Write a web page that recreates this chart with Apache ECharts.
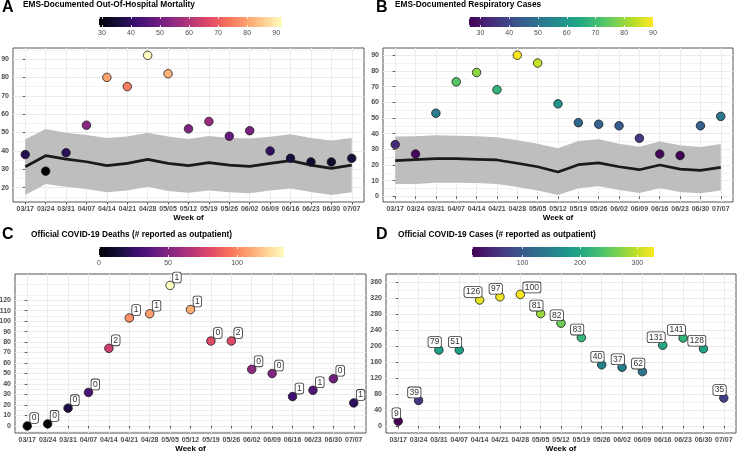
<!DOCTYPE html>
<html>
<head>
<meta charset="utf-8">
<script src="https://cdn.jsdelivr.net/npm/echarts@6/dist/echarts.min.js"></script>
<style>
html,body{margin:0;padding:0;background:#fff;}
#chart{width:737px;height:453px;}
</style>
</head>
<body>
<div id="chart"></div>
<script>
// ---------------- data ----------------
const weeks = ['03/17','03/24','03/31','04/07','04/14','04/21','04/28','05/05','05/12','05/19','05/26','06/02','06/09','06/16','06/23','06/30','07/07'];

const mortality      = [38,29,39,54,80,75,92,82,52,56,48,51,40,36,34,34,36];
const mortExpected   = [31.4,37.4,35.5,34.1,32,33.2,35.4,33.2,32,33.6,32.3,31.6,33.2,34.7,32.3,30.5,32.3];
const mortUpper      = [46.3,51.9,49.9,48.6,47,47.9,49.9,47.9,46.5,48.1,47,46.7,47.7,49,47,45.6,47];
const mortLower      = [16,22,20.5,19.3,17.5,18.4,20.5,18.2,17.3,18.5,17.5,16.9,18.4,19.5,17.6,16,17.5];

const resp           = [33,27,53,73,79,68,90,85,59,47,46,45,37,27,26,45,51];
const respExpected   = [22.8,23.4,24,24,23.6,23.2,21.1,18.9,15.5,20.2,21.3,18.9,17,20,17.4,16.6,18.5];
const respUpper      = [38.1,38.3,38.9,38.7,38.3,37.7,35.7,33.6,30.6,35.3,36.4,33.6,31.7,34.9,32.6,31.5,33.4];
const respLower      = [7.9,7.9,8.7,8.7,8.5,7.9,6,3.8,0.9,5.1,6.4,4,2.1,5.1,2.8,1.9,3.8];

const deaths            = [0,2,17,32,74,103,107,134,111,81,81,54,50,28,34,45,22];
const deathsOutpatient  = [0,0,0,0,2,1,1,1,1,0,2,0,0,1,1,0,1];

const cases             = [12,64,190,190,315,323,329,281,257,221,153,147,136,202,220,193,70];
const casesOutpatient   = [9,39,79,51,126,97,100,81,82,83,40,37,62,131,141,128,35];

const ticksA = [20,30,40,50,60,70,80,90];
const ticksB = [0,10,20,30,40,50,60,70,80,90];
const ticksC = [0,10,20,30,40,50,60,70,80,90,100,110,120];
const ticksD = [0,40,80,120,160,200,240,280,320,360];

const titleA = 'EMS-Documented Out-Of-Hospital Mortality';
const titleB = 'EMS-Documented Respiratory Cases';
const titleC = 'Official COVID-19 Deaths (# reported as outpatient)';
const titleD = 'Official COVID-19 Cases (# reported as outpatient)';

// ---------------- styling ----------------
const FONT = "'Liberation Sans', Arial, sans-serif";
const magma = ['#000004','#140E36','#3B0F70','#641A80','#8C2981','#B63679','#DE4968','#F7705C','#FE9F6D','#FECF92','#FCFDBF'];
const viridis = ['#440154','#482576','#414487','#35608D','#2A788E','#21908C','#22A884','#43BF71','#7AD151','#BBDF27','#FDE725'];

function grad(stops){
  return {type:'linear', x:0, y:0, x2:1, y2:0, global:false,
    colorStops: stops.map((c,i)=>({offset:i/(stops.length-1), color:c}))};
}
const isMult = (v, s) => Math.abs(v/s - Math.round(v/s)) < 1e-6;

function mainX(gi){
  const idx = weeks.map((w,i)=>i);
  return {
    type:'value', gridIndex:gi, min:-0.6, max:weeks.length-1+0.6, minInterval:1, maxInterval:1,
    axisLine:{show:false},
    axisTick:{show:true, length:2.5, customValues:idx, lineStyle:{color:'#333', width:0.8}},
    axisLabel:{customValues:idx, formatter:v => (Number.isInteger(v) && weeks[v]) ? weeks[v] : '',
      color:'#4D4D4D', fontSize:7, fontWeight:'bold', fontFamily:FONT, margin:4},
    splitLine:{show:true, lineStyle:{color:'#EBEBEB', width:1}},
    name:'Week of', nameLocation:'middle', nameGap:12,
    nameTextStyle:{fontSize:8, fontWeight:'bold', color:'#000', fontFamily:FONT}
  };
}
function mainY(gi, min, max, step, ticks){
  return {
    type:'value', gridIndex:gi, min:min, max:max, minInterval:step, maxInterval:step,
    axisLine:{show:false},
    axisTick:{show:true, length:2.5, customValues:ticks, lineStyle:{color:'#333', width:0.8}},
    axisLabel:{customValues:ticks, formatter:v => String(Math.round(v)),
      color:'#4D4D4D', fontSize:7, fontWeight:'bold', fontFamily:FONT, margin:4},
    splitLine:{show:true, lineStyle:{color:'#EBEBEB', width:1}},
    minorTick:{show:false, splitNumber:2},
    minorSplitLine:{show:true, lineStyle:{color:'#EBEBEB', width:0.6}}
  };
}
function cbX(gi, vals, step, pos){
  return {
    type:'value', gridIndex:gi, position:pos, min:Math.min(...vals), max:Math.max(...vals),
    minInterval:step, maxInterval:step,
    axisLine:{show:false},
    axisTick:{show:true, inside:true, length:2, lineStyle:{color:'#fff', width:0.8}},
    axisLabel: pos === 'bottom'
      ? {formatter:v => isMult(v,step) ? String(Math.round(v)) : '', color:'#4D4D4D', fontSize:7, fontFamily:FONT, margin:3}
      : {show:false},
    splitLine:{show:false}
  };
}
function cbY(gi){ return {type:'value', gridIndex:gi, show:false, min:0, max:1}; }

function ribbon(gi, lower, upper){
  return {
    type:'custom', xAxisIndex:gi, yAxisIndex:gi, silent:true, z:1,
    data: lower.map((v,i)=>[i, v, upper[i]]),
    encode:{x:0, y:1},
    renderItem:function(params, api){
      if (params.dataIndexInside !== 0) return null;
      const n = params.dataInsideLength;
      const pts = [];
      for (let i=0;i<n;i++) pts.push(api.coord([api.value(0,i), api.value(2,i)]));
      for (let i=n-1;i>=0;i--) pts.push(api.coord([api.value(0,i), api.value(1,i)]));
      return {type:'polygon', shape:{points:pts}, style:{fill:'#BEBEBE'}};
    }
  };
}
function expLine(gi, vals){
  return {type:'line', xAxisIndex:gi, yAxisIndex:gi, data:vals.map((v,i)=>[i,v]), symbol:'none', silent:true, z:2,
    lineStyle:{color:'#1A1A1A', width:2.7}};
}
function points(gi, vals, labelOpt){
  const s = {type:'scatter', xAxisIndex:gi, yAxisIndex:gi, symbolSize:8.5, z:3,
    itemStyle:{borderColor:'#1A1A1A', borderWidth:0.8, opacity:1},
    data: vals.map((v,i)=>[i,v])};
  if (labelOpt) Object.assign(s, labelOpt);
  return s;
}
const boxLabel = {show:true, position:'inside', verticalAlign:'middle', fontSize:8.5, color:'#333',
  fontFamily:FONT, backgroundColor:'#fff', borderColor:'#333', borderWidth:0.8, borderRadius:2, padding:[1,1.5,0,1.5]};

function t(text, left, top, size){
  return {text:text, left:left, top:top, padding:0,
    textStyle:{fontSize:size, fontWeight:'bold', color:'#000', fontFamily:FONT}};
}

const option = {
  animation:false,
  backgroundColor:'#fff',
  title:[
    t('A', 2, 0, 16), t(titleA, 23, 1, 8.3),
    t('B', 376, 0, 16), t(titleB, 395, 1, 8.3),
    t('C', 2, 227, 16), t(titleC, 31, 231, 8.3),
    t('D', 376, 227, 16), t(titleD, 398, 231, 8.3)
  ],
  grid:[
    {left:13, top:48, width:351, height:154},
    {left:383, top:48, width:350, height:154},
    {left:15, top:274, width:351, height:159},
    {left:386, top:274, width:350, height:159},
    {left:99, top:17, width:183, height:10},
    {left:469, top:17, width:184, height:10},
    {left:99, top:247, width:185, height:10},
    {left:472, top:247, width:182, height:10}
  ].map((g,i)=>Object.assign(g, {containLabel:false, outerBoundsMode:'none', show:true,
      borderWidth: i<4 ? 1 : 0, borderColor:'#555',
      backgroundColor: i<4 ? '#fff' : grad(i===4||i===6 ? magma : viridis)})),
  xAxis:[
    mainX(0), mainX(1), mainX(2), mainX(3),
    cbX(4, mortality, 10, 'bottom'), cbX(5, resp, 10, 'bottom'), cbX(6, deaths, 50, 'bottom'), cbX(7, cases, 100, 'bottom'),
    cbX(4, mortality, 10, 'top'), cbX(5, resp, 10, 'top'), cbX(6, deaths, 50, 'top'), cbX(7, cases, 100, 'top')
  ],
  yAxis:[
    mainY(0, 12.2, 96, 10, ticksA),
    mainY(1, -3.6, 94.6, 10, ticksB),
    mainY(2, -6.7, 144.9, 10, ticksC),
    mainY(3, -17.5, 380, 40, ticksD),
    cbY(4), cbY(5), cbY(6), cbY(7)
  ],
  visualMap:[
    {type:'continuous', show:false, seriesIndex:2, dimension:1, min:Math.min(...mortality), max:Math.max(...mortality), inRange:{color:magma}},
    {type:'continuous', show:false, seriesIndex:5, dimension:1, min:Math.min(...resp), max:Math.max(...resp), inRange:{color:viridis}},
    {type:'continuous', show:false, seriesIndex:6, dimension:1, min:Math.min(...deaths), max:Math.max(...deaths), inRange:{color:magma}},
    {type:'continuous', show:false, seriesIndex:7, dimension:1, min:Math.min(...cases), max:Math.max(...cases), inRange:{color:viridis}}
  ],
  series:[
    ribbon(0, mortLower, mortUpper), expLine(0, mortExpected), points(0, mortality),
    ribbon(1, respLower, respUpper), expLine(1, respExpected), points(1, resp),
    points(2, deaths, {label:Object.assign({}, boxLabel, {align:'left', offset:[3,-8],
      formatter:p => String(deathsOutpatient[p.dataIndex])})}),
    Object.assign(points(3, cases, {label:Object.assign({}, boxLabel, {align:'right', offset:[2,-8],
      formatter:p => String(casesOutpatient[p.dataIndex])})}),
      {data: cases.map((v,i)=> i===6 ? {value:[i,v], label:{align:'left', offset:[3,-7]}} : [i,v])})
  ]
};

const chart = echarts.init(document.getElementById('chart'), null, {renderer:'canvas'});
chart.setOption(option);
</script>
</body>
</html>
